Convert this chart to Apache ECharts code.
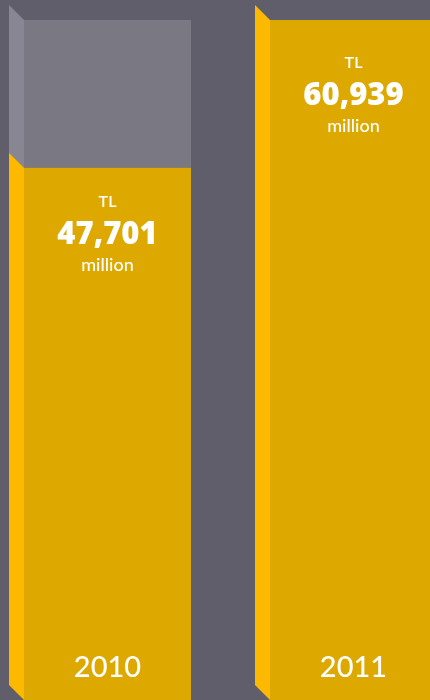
<!DOCTYPE html>
<html>
<head>
<meta charset="utf-8">
<script src="https://cdn.jsdelivr.net/npm/echarts@6/dist/echarts.min.js"></script>
<style>
html,body{margin:0;padding:0;background:#605e6a;}
#chart{width:430px;height:700px;}
</style>
</head>
<body>
<div id="chart"></div>
<script>
const categories = ['2010', '2011'];
const values = [47701, 60939];
const backgroundMax = 60939;
const unitPrefix = 'TL';
const unitSuffix = 'million';

const chart = echarts.init(document.getElementById('chart'), null, {renderer: 'canvas'});
const FONT = 'Lato, "Open Sans", sans-serif';
const NUM_FONT = '"Open Sans", Lato, sans-serif';
const labelShift = [0, 9];

function renderItem(params, api) {
  const idx = api.value(0);
  const val = api.value(1);
  const base = api.coord([idx, 0]);
  const top = api.coord([idx, val]);
  const full = api.coord([idx, backgroundMax]);
  const band = api.size([1, 0])[0];
  const w = Math.round(band * 0.68);
  const x0 = Math.round(base[0] - w / 2);
  const d = 15;
  const yb = base[1], yt = top[1], yf = full[1];
  const cx = x0 + w / 2;
  const children = [];
  if (yt - yf > 0.5) {
    children.push({type: 'rect', shape: {x: x0, y: yf, width: w, height: yt - yf}, style: {fill: '#7a7883'}});
    children.push({type: 'polygon', shape: {points: [[x0 - d, yf - d], [x0, yf], [x0, yt], [x0 - d, yt - d]]}, style: {fill: '#878692'}});
  }
  children.push({type: 'rect', shape: {x: x0, y: yt, width: w, height: yb - yt}, style: {fill: '#dda800'}});
  children.push({type: 'polygon', shape: {points: [[x0 - d, yt - d], [x0, yt], [x0, yb], [x0 - d, yb - d]]}, style: {fill: '#fcb900'}});
  const s = labelShift[idx];
  children.push({type: 'text', style: {text: unitPrefix, x: cx, y: yt + 34 + s, align: 'center', verticalAlign: 'middle', fill: '#ffffff', fontSize: 16, fontWeight: 600, fontFamily: FONT}});
  children.push({type: 'text', style: {text: val.toLocaleString('en-US'), x: cx, y: yt + 67 + s, align: 'center', verticalAlign: 'middle', fill: '#ffffff', fontSize: 31, fontWeight: 800, fontFamily: NUM_FONT}});
  children.push({type: 'text', style: {text: unitSuffix, x: cx, y: yt + 97 + s, align: 'center', verticalAlign: 'middle', fill: '#ffffff', fontSize: 18, fontWeight: 500, fontFamily: FONT}});
  children.push({type: 'text', style: {text: categories[idx], x: cx, y: yb - 32, align: 'center', verticalAlign: 'middle', fill: '#ffffff', fontSize: 29, fontWeight: 500, fontFamily: FONT}});
  return {type: 'group', children: children};
}

chart.setOption({
  backgroundColor: '#605e6a',
  animation: false,
  grid: {outerBoundsMode: 'none', containLabel: false, left: -16, width: 492, top: 20, bottom: 0},
  xAxis: {type: 'category', data: categories, show: false},
  yAxis: {type: 'value', min: 0, max: backgroundMax, show: false},
  series: [{
    type: 'custom',
    clip: false,
    renderItem: renderItem,
    data: categories.map((c, i) => [i, values[i]])
  }]
});
</script>
</body>
</html>
